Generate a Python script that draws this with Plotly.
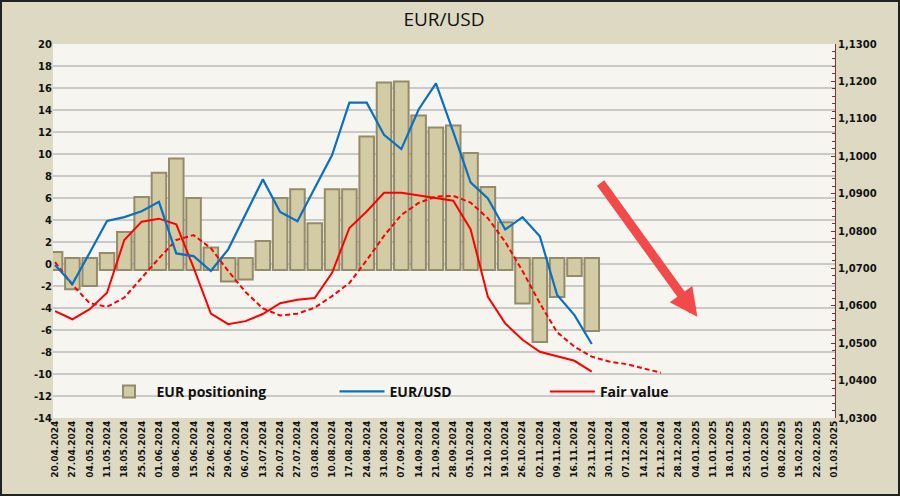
import plotly.graph_objects as go

# ---- data ----
week_labels = ["20.04.2024", "27.04.2024", "04.05.2024", "11.05.2024", "18.05.2024", "25.05.2024",
               "01.06.2024", "08.06.2024", "15.06.2024", "22.06.2024", "29.06.2024", "06.07.2024",
               "13.07.2024", "20.07.2024", "27.07.2024", "03.08.2024", "10.08.2024", "17.08.2024",
               "24.08.2024", "31.08.2024", "07.09.2024", "14.09.2024", "21.09.2024", "28.09.2024",
               "05.10.2024", "12.10.2024", "19.10.2024", "26.10.2024", "02.11.2024", "09.11.2024",
               "16.11.2024", "23.11.2024", "30.11.2024", "07.12.2024", "14.12.2024", "21.12.2024",
               "28.12.2024", "04.01.2025", "11.01.2025", "18.01.2025", "25.01.2025", "01.02.2025",
               "08.02.2025", "15.02.2025", "22.02.2025", "01.03.2025"]

eur_positioning = [1.1, -2.3, -2.0, 1.0, 2.9, 6.1, 8.3, 9.6, 6.0, 1.5, -1.6, -1.4,
                   2.1, 6.0, 6.8, 3.7, 6.8, 6.8, 11.6, 16.5, 16.6, 13.5, 12.4, 12.6,
                   10.1, 7.0, 3.8, -3.6, -7.1, -3.0, -1.1, -6.1]

eurusd = [1.0709, 1.0658, 1.0742, 1.0827, 1.0837, 1.0853, 1.0878, 1.0740, 1.0733, 1.0693,
          1.0751, 1.0846, 1.0938, 1.0851, 1.0826, 1.0915, 1.1003, 1.1143, 1.1143, 1.1057,
          1.1019, 1.1125, 1.1195, 1.1065, 1.0930, 1.0887, 1.0804, 1.0837, 1.0786, 1.0629,
          1.0575, 1.0498]

fair_value = [1.0586, 1.0564, 1.0591, 1.0635, 1.0776, 1.0825, 1.0833, 1.0818, 1.0702, 1.0579,
              1.0551, 1.0559, 1.0578, 1.0607, 1.0616, 1.0621, 1.0688, 1.0808, 1.0852, 1.0902,
              1.0902, 1.0895, 1.0887, 1.0881, 1.0805, 1.0624, 1.0553, 1.0509, 1.0477, 1.0464,
              1.0453, 1.0424]

fair_value_trend = [1.0717, 1.0656, 1.0607, 1.0597, 1.0622, 1.0674, 1.0727, 1.0776, 1.0789, 1.0754,
                    1.0693, 1.0637, 1.0593, 1.0574, 1.0579, 1.0595, 1.0626, 1.0661, 1.0722, 1.0787,
                    1.0843, 1.0875, 1.0892, 1.0894, 1.0876, 1.0834, 1.0771, 1.0693, 1.0607, 1.0529,
                    1.0491, 1.0464, 1.0451, 1.0444, 1.0433, 1.0421]

left_ticks = [-14, -12, -10, -8, -6, -4, -2, 0, 2, 4, 6, 8, 10, 12, 14, 16, 18, 20]
right_ticks = [1.03, 1.04, 1.05, 1.06, 1.07, 1.08, 1.09, 1.10, 1.11, 1.12, 1.13]

# ---- styles ----
BAR_FILL = "#d3cba4"
BAR_EDGE = "#938b69"
BLUE = "#0a70c2"
RED = "#ff0000"
FONT = "DejaVu Sans"
LEG_FONT = "Open Sans"
BAR_BASE_OFFSET = 0.55  # the bevelled bars stick out a little past zero

pos_x = list(range(len(week_labels)))
bar_bases = [-BAR_BASE_OFFSET if v >= 0 else BAR_BASE_OFFSET for v in eur_positioning]
bar_heights = [v - b for v, b in zip(eur_positioning, bar_bases)]

fig = go.Figure()

fig.add_trace(go.Bar(
    x=pos_x[:len(eur_positioning)], y=bar_heights, base=bar_bases,
    name="EUR positioning", width=0.84,
    marker=dict(color=BAR_FILL, line=dict(color=BAR_EDGE, width=2)),
    legend="legend", yaxis="y",
))

fig.add_trace(go.Scatter(
    x=pos_x[:len(fair_value_trend)], y=fair_value_trend, mode="lines",
    line=dict(color=RED, width=2, dash="5px,3px"), showlegend=False, yaxis="y2",
))

fig.add_trace(go.Scatter(
    x=pos_x[:len(fair_value)], y=fair_value, mode="lines", name="Fair value",
    line=dict(color=RED, width=2), legend="legend3", yaxis="y2",
))

fig.add_trace(go.Scatter(
    x=pos_x[:len(eurusd)], y=eurusd, mode="lines", name="EUR/USD",
    line=dict(color=BLUE, width=2.2), legend="legend2", yaxis="y2",
))

# arrow
fig.add_annotation(
    x=37.1, y=-4.8, ax=31.45, ay=7.5, xref="x", yref="y", axref="x", ayref="y",
    text="", showarrow=True, arrowhead=2, arrowsize=0.62, arrowwidth=9,
    arrowcolor="#f24a4a",
)

leg_common = dict(orientation="h", bgcolor="rgba(0,0,0,0)", borderwidth=0,
                  font=dict(family=LEG_FONT, size=14, color="#111111", weight="bold"),
                  xanchor="left", yanchor="middle", itemwidth=45)

fig.update_layout(
    width=900, height=496,
    margin=dict(l=53, r=65, t=44, b=78),
    paper_bgcolor="#ddd9c3",
    plot_bgcolor="#f6f5f0",
    separators=", ",
    title=dict(text="EUR/USD", x=0.5, xref="paper", xanchor="center",
               y=0.96, yref="container", yanchor="middle",
               font=dict(family=LEG_FONT, size=19, color="#111111")),
    bargap=0.1,
    xaxis=dict(
        range=[-0.12, 45.05], tickmode="array", tickvals=pos_x, ticktext=week_labels,
        tickangle=-90, tickfont=dict(family=FONT, size=9, color="#111111", weight="bold"),
        showgrid=False, zeroline=False, showline=False, ticks="",
    ),
    yaxis=dict(
        range=[-14, 20], tickmode="array", tickvals=left_ticks,
        ticktext=[str(v) for v in left_ticks],
        tickfont=dict(family=FONT, size=10, color="#111111", weight="bold"),
        showgrid=True, gridcolor="#c9c9c7", gridwidth=1.5, zeroline=False, showline=False,
    ),
    yaxis2=dict(
        range=[1.03, 1.13], overlaying="y", side="right", tickmode="array",
        tickvals=right_ticks, tickformat=".4f",
        tickfont=dict(family=FONT, size=10, color="#111111", weight="bold"),
        showgrid=False, zeroline=False, showline=True, linecolor="#8b3030", linewidth=1,
        ticks="inside", ticklen=4, tickcolor="#8b3030",
        minor=dict(dtick=0.002, ticks="inside", ticklen=3, tickcolor="#8b3030"),
    ),
    legend=dict(x=0.062, y=0.07, **leg_common),
    legend2=dict(x=0.36, y=0.07, **leg_common),
    legend3=dict(x=0.629, y=0.07, **leg_common),
)

# outer frame of the chart
fig.add_shape(type="rect", xref="paper", yref="paper",
              x0=-52 / 782, x1=1 + 64 / 782, y0=-77 / 374, y1=1 + 43 / 374,
              line=dict(color="#222222", width=2), layer="above")

fig.write_html("out.html", config={"displayModeBar": False},
               post_script="document.body.style.margin='0';")
